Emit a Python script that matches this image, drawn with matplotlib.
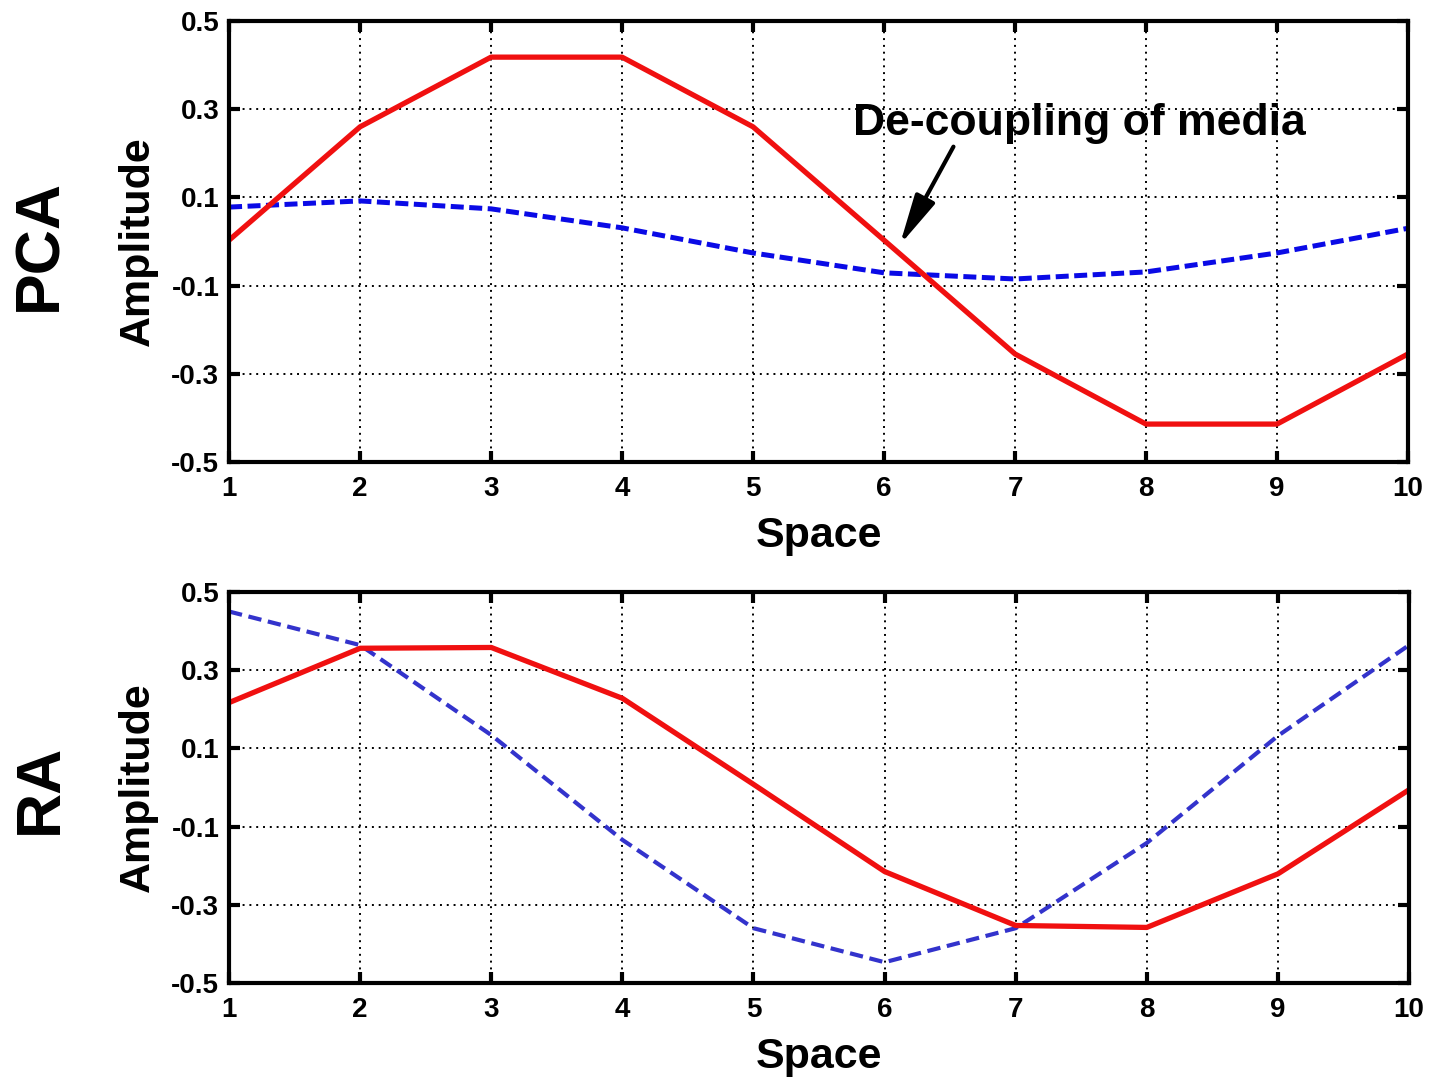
import matplotlib
matplotlib.use("Agg")
import matplotlib.pyplot as plt

plt.rcParams['font.family'] = ['Liberation Sans', 'DejaVu Sans']
plt.rcParams['font.weight'] = 'bold'

space = [1, 2, 3, 4, 5, 6, 7, 8, 9, 10]
pca_red = [0.003, 0.26, 0.418, 0.418, 0.26, 0.003, -0.255, -0.414, -0.414, -0.255]
pca_blue = [0.078, 0.092, 0.074, 0.031, -0.026, -0.071, -0.085, -0.069, -0.026, 0.030]
ra_red = [0.217, 0.356, 0.358, 0.228, 0.008, -0.215, -0.353, -0.358, -0.221, -0.006]
ra_blue = [0.450, 0.364, 0.134, -0.134, -0.360, -0.447, -0.360, -0.142, 0.132, 0.364]

yticks = [-0.5, -0.3, -0.1, 0.1, 0.3, 0.5]
ytick_labels = ['-0.5', '-0.3', '-0.1', '0.1', '0.3', '0.5']
xticks = space
xtick_labels = [str(v) for v in space]

fig = plt.figure(figsize=(14.29, 10.81), dpi=100)
ax1 = fig.add_axes([0.1603, 0.5726, 0.8250, 0.4080])
ax2 = fig.add_axes([0.1603, 0.0907, 0.8257, 0.3617])


def style(ax):
    ax.set_xlim(1, 10)
    ax.set_ylim(-0.5, 0.5)
    ax.set_xticks(xticks)
    ax.set_xticklabels(xtick_labels)
    ax.set_yticks(yticks)
    ax.set_yticklabels(ytick_labels)
    for s in ax.spines.values():
        s.set_linewidth(3)
    ax.tick_params(direction='in', length=8, width=3, top=True, right=True,
                   labelsize=20)
    ax.tick_params(axis='x', pad=10)
    ax.tick_params(axis='y', pad=7)
    for lab in ax.get_xticklabels() + ax.get_yticklabels():
        lab.set_fontweight('bold')
    ax.grid(True, color='black', linestyle=(0, (1, 2.5)), linewidth=1.4)
    ax.set_axisbelow(True)
    ax.set_xlabel('Space', fontsize=31, fontweight='bold', labelpad=10)
    ax.set_ylabel('Amplitude', fontsize=31, fontweight='bold', labelpad=10)


style(ax1)
style(ax2)

ax1.plot(space, pca_blue, color='#0a0ae6', linewidth=3.6, linestyle=(0, (2.6, 1.1)))
ax1.plot(space, pca_red, color='#f01010', linewidth=3.8)

ax2.plot(space, ra_blue, color='#3333cc', linewidth=3.0, linestyle=(0, (3.2, 1.6)))
ax2.plot(space, ra_red, color='#f01010', linewidth=3.8)

ax1.text(5.76, 0.241, 'De-coupling of media', fontsize=32, fontweight='bold',
         ha='left', va='baseline')
ax1.annotate('', xy=(6.12, -0.008), xytext=(6.53, 0.215),
             arrowprops=dict(arrowstyle='-|>,head_length=1.4,head_width=0.3',
                             color='black', lw=3, mutation_scale=22,
                             shrinkA=0, shrinkB=0))

fig.text(40 / 1429, 1 - 245 / 1081, 'PCA', fontsize=45, fontweight='bold',
         rotation=90, ha='center', va='center')
fig.text(40 / 1429, 1 - 789 / 1081, 'RA', fontsize=45, fontweight='bold',
         rotation=90, ha='center', va='center')

fig.savefig('out.png', dpi=100, facecolor='white')
